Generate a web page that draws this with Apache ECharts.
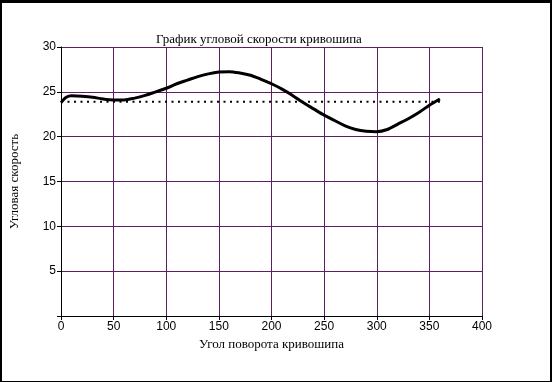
<!DOCTYPE html>
<html>
<head>
<meta charset="utf-8">
<script src="https://cdn.jsdelivr.net/npm/echarts@6/dist/echarts.min.js"></script>
<style>
html,body{margin:0;padding:0;background:#fff;}
#frame{position:absolute;left:0;top:0;width:548px;height:378px;border:2px solid #000;border-top-width:3px;}
#chart{position:absolute;left:0;top:0;width:555px;height:382px;}
</style>
</head>
<body>
<div id="frame"></div>
<div id="chart"></div>
<script>
const titleText = 'График угловой скорости кривошипа';
const xName = 'Угол поворота кривошипа';
const yName = 'Угловая скорость';
const angles = [0,5,10,20,30,40,50,60,70,80,90,100,110,120,130,140,150,160,170,180,190,200,210,220,230,240,250,260,270,280,290,300,310,320,330,340,350,360];
const omega = [23.8,24.4,24.55,24.5,24.4,24.2,24.1,24.1,24.3,24.6,25.0,25.4,25.9,26.3,26.7,27.0,27.2,27.25,27.1,26.85,26.4,25.9,25.3,24.6,23.8,23.1,22.4,21.8,21.2,20.8,20.6,20.55,20.8,21.4,22.0,22.7,23.5,24.2];
const meanAngles = [0,360];
const meanOmega = [23.9,23.9];

const chart = echarts.init(document.getElementById('chart'));
const purple = '#5e1f60';
chart.setOption({
  animation:false,
  title:{text:titleText,left:254,top:28,textAlign:'center',
    textStyle:{fontFamily:'Liberation Serif',fontSize:13,fontWeight:'normal',color:'#000'}},
  grid:{left:57,right:73,top:47,bottom:66},
  xAxis:{type:'value',min:0,max:400,interval:50,
    name:xName,nameLocation:'middle',nameGap:22,
    nameTextStyle:{fontFamily:'Liberation Serif',fontSize:13,color:'#000'},
    axisLine:{onZero:false,lineStyle:{color:'#000',width:1}},
    axisTick:{show:true,length:4,lineStyle:{color:'#000'}},
    axisLabel:{fontFamily:'Liberation Sans',fontSize:12,color:'#000',margin:5},
    splitLine:{show:true,lineStyle:{color:purple,width:1}}
  },
  yAxis:{type:'value',min:0,max:30,interval:5,
    name:yName,nameLocation:'middle',nameGap:40,nameRotate:90,
    nameTextStyle:{fontFamily:'Liberation Serif',fontSize:13,color:'#000'},
    axisLine:{show:true,lineStyle:{color:'#000',width:1}},
    axisTick:{show:true,length:4,lineStyle:{color:'#000'}},
    axisLabel:{fontFamily:'Liberation Sans',fontSize:12,color:'#000',margin:5,
      formatter:v=>v===0?'':String(v)},
    splitLine:{show:true,lineStyle:{color:purple,width:1}}
  },
  series:[
    {type:'line',data:meanAngles.map((a,i)=>[a,meanOmega[i]]),symbol:'none',
      lineStyle:{color:'#000',width:2,type:[2,4.5]},z:2},
    {type:'line',data:angles.map((a,i)=>[a,omega[i]]),symbol:'none',smooth:0.3,
      lineStyle:{color:'#000',width:3},z:3}
  ]
});
</script>
</body>
</html>
